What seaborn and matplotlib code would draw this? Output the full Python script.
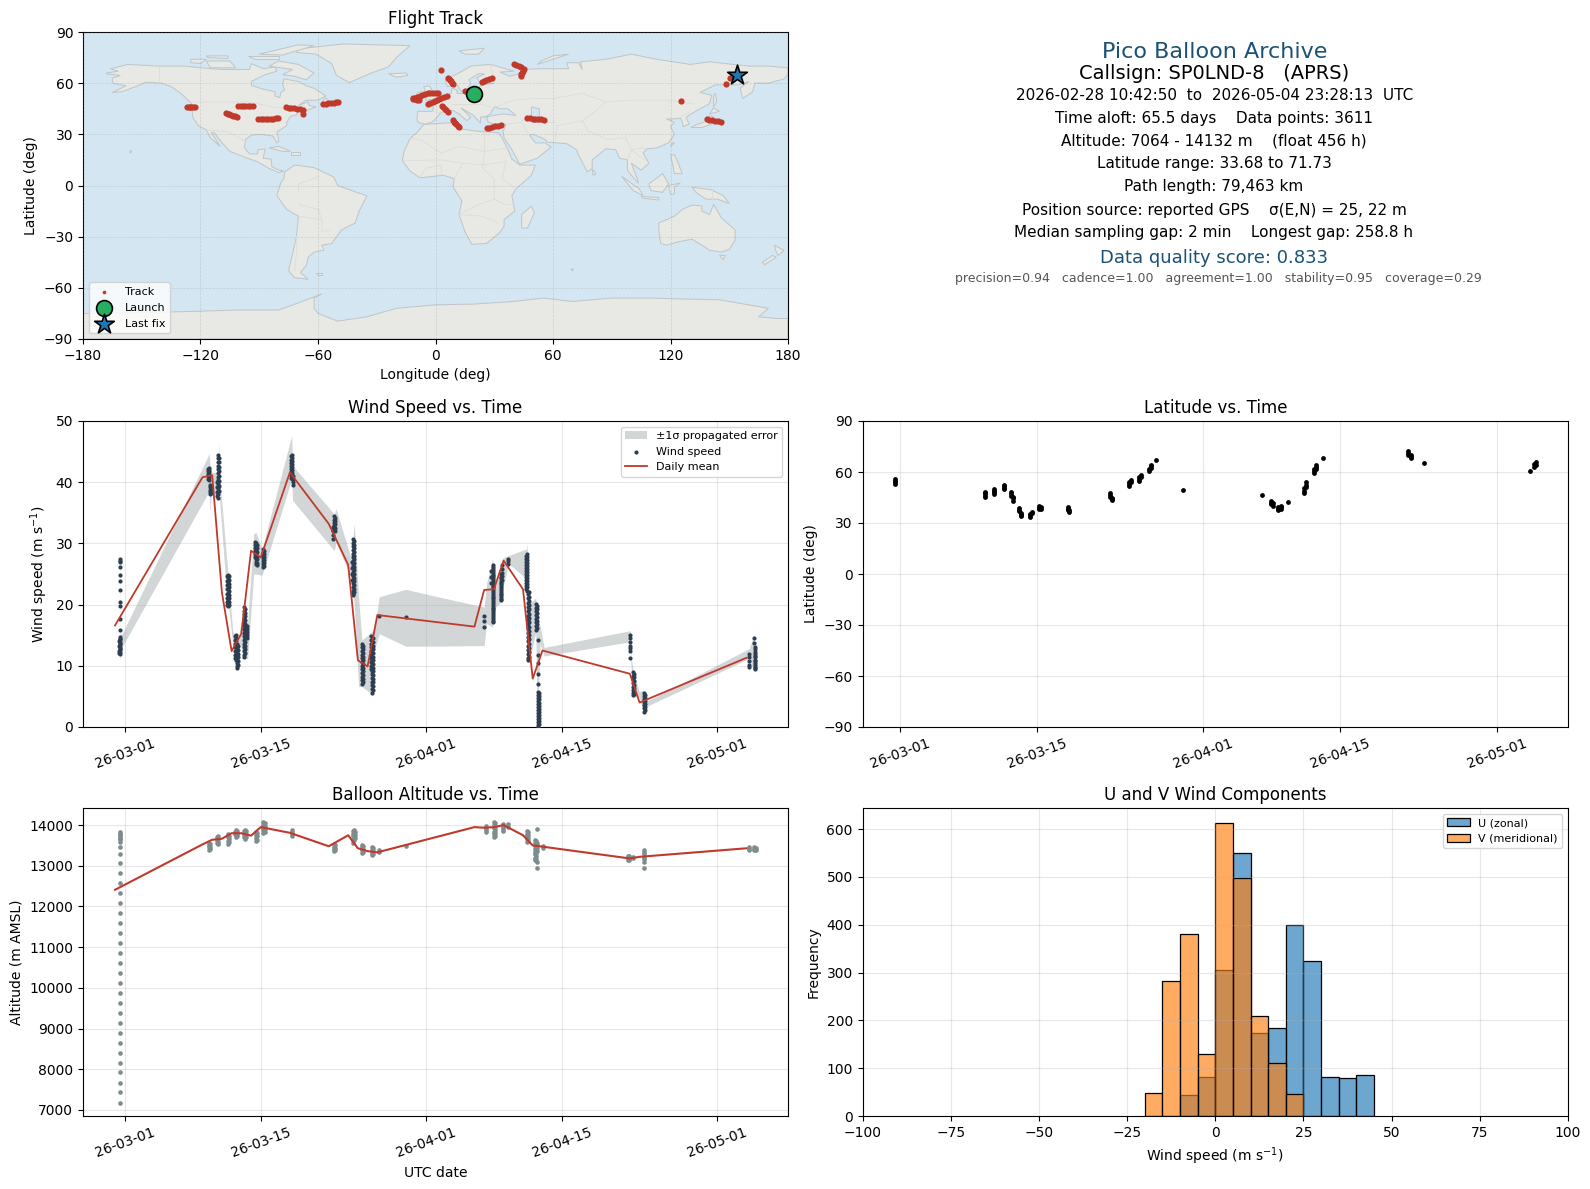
"""
Pico balloon flight summary: track map, wind, latitude, altitude, U/V histogram.
Output: out.png
"""
import numpy as np
import pandas as pd
import matplotlib
matplotlib.use('Agg')
import matplotlib.pyplot as plt
import seaborn as sns

# ── Colours ───────────────────────────────────────────────────
OCEAN = '#d4e6f1'
LAND = '#e8e8e4'
COAST = '#bfc5c8'
BORDER = '#dcdcd8'
RED = '#c0392b'
NAVY = '#2c3e50'
GREY = '#7f8c8d'
TITLE_BLUE = '#1a5276'

# ── Map outlines (lon, lat) ───────────────────────────────────
north_america = [(-168,66),(-162,67),(-166,68.5),(-157,71),(-141,70),(-128,70),(-115,68.5),(-108,68),(-95,68),(-94,71.5),(-88,68.5),(-82,69.5),(-81,67),(-87,65),(-94,61),(-94,58.7),(-88,56.5),(-82,55),(-82,52.5),(-79.5,51.5),(-79,54.5),(-77,56),(-78,59),(-77.5,62.5),(-70,61),(-66,58.5),(-62,57),(-56,52.5),(-60,50),(-66,50),(-70,47),(-65,49),(-64.5,47),(-61,46),(-66,44),(-70,43.5),(-71,41.5),(-74,40.5),(-76,37),(-76,35),(-81,31.5),(-80,26),(-81,25),(-83,29),(-89,30),(-94,29.5),(-97,27),(-97.5,22),(-95,18.5),(-91,18.5),(-90.5,21),(-87,21.5),(-88,16),(-84,15.5),(-83.5,11),(-80,9),(-77.5,8.5),(-80,7.5),(-85,10),(-91,14),(-96,16),(-105,20),(-109,25),(-113,31),(-114.5,31),(-110,23),(-115,28),(-117,32.5),(-121,35),(-124,40),(-124.5,48),(-130,54),(-135,58),(-140,60),(-148,60.5),(-153,58),(-160,55),(-165,54.5),(-158,58.5),(-165,60),(-165,63),(-161,64.5),(-168,65.5)]
greenland = [(-71,78),(-61,77),(-53,71.5),(-50.6,64.6),(-44,60.3),(-33.6,65.6),(-24,69.5),(-20,75),(-13,82),(-47,83),(-71,80)]
south_america = [(-77,8),(-72,12),(-62,10.5),(-52,5),(-50,0),(-44,-2.5),(-35,-6),(-39,-15),(-41,-22),(-48,-26),(-53,-34),(-58,-35),(-57,-38),(-62,-39),(-65,-42),(-66,-47),(-69,-51),(-65,-55),(-72,-54),(-75,-50),(-73,-40),(-71,-30),(-70,-18),(-76,-14),(-81,-6),(-80,-2),(-79,1.5),(-77.5,4)]
africa = [(-6,35.8),(10,37),(11,33.5),(20,32),(25,31.5),(32,31),(34,28),(37,21),(39,15.5),(43,12),(51,12),(49,6),(41,-2),(39,-6),(40.5,-15),(35,-20),(35,-24),(32.5,-28),(26,-34),(18.5,-34.5),(15,-27),(12,-17),(13.5,-9),(9,-1),(9.5,4),(4,6),(-4,5),(-8,4.5),(-13,8.5),(-17,14.5),(-16,20),(-13,27.5),(-9.5,31)]
eurasia = [(-9,37),(-9.5,39),(-9,43.5),(-1.5,43.5),(-1,46),(-4.5,48.5),(1,50),(4,52),(8,54),(8.5,57),(11,56),(11,54),(14,54),(19,54.5),(21,57),(24,59),(30,60),(23,60),(21,63),(25,65.5),(22,65.5),(17,62),(18,60),(16,56),(13,55.5),(11,59),(6,58),(5,62),(12,66),(18,70),(28,71),(40,67),(33,66.5),(38,64),(44,66),(44,68),(54,68.5),(68,68.5),(67,72),(73,72),(75,68),(74,72.5),(87,74),(100,77),(113,74),(130,71),(140,72.5),(160,70),(170,70),(180,69),(180,65),(178,62.5),(170,60),(163,60),(162,55),(157,51),(155.5,57),(160,61),(155,59),(143,59),(135,54.5),(141,53),(140,48),(132,43),(128,40),(129.5,36),(126.5,34.5),(126,37.5),(125,39.5),(121,39),(118,39),(122,37),(120,34.5),(122,30),(119,25),(113,22),(108,21.5),(106,19),(109,13),(105,9),(100,13),(103,4),(103.5,1.3),(100,6),(98,9),(98,15),(94,16),(92,21),(87,21.5),(80,15),(80,10),(77.5,8),(73,18),(72,21),(67,24.5),(57,25.5),(56,27),(50,30),(48,29.5),(51,25),(56,25),(59,22.5),(52,16),(43,12.5),(39,21),(35,28),(34.5,31.5),(36,36),(30,36),(27,37),(26,40),(29,41),(35,42),(41,41),(37,45),(33,45),(30,46),(28,42),(26,40.5),(23,40),(23,36.5),(19.5,41),(13,45.5),(18,40),(16,38),(12,42),(9,44),(3,43),(0,39),(-2,37),(-5.5,36)]
australia = [(114,-22),(122,-18),(126,-14),(131,-11.5),(136,-12),(136,-15),(140,-17),(142,-11),(146,-19),(153,-26),(153,-32),(150,-37.5),(146,-39),(140,-38),(136,-35),(131,-31.5),(124,-33),(118,-35),(115,-34),(114,-26)]
antarctica = [(-180,-90),(-180,-75),(-150,-74.5),(-130,-74),(-100,-73),(-80,-73),(-68,-68),(-58,-63.5),(-62,-66),(-62,-72),(-60,-75),(-50,-79.5),(-35,-77),(-20,-72),(0,-70),(20,-69.5),(40,-68),(55,-66),(70,-68),(90,-66),(110,-66),(125,-66.5),(145,-67),(165,-71),(170,-72),(165,-77),(175,-78),(180,-78),(180,-90)]
islands = [
    [(-80,73),(-70,71),(-62,66),(-66,62),(-72,64),(-78,65),(-73,68),(-85,70)],
    [(-117,73),(-105,73),(-102,69),(-115,69)],
    [(-90,77),(-70,82.5),(-62,82),(-78,76.5)],
    [(-125,74),(-117,74),(-120,71.5),(-125,72)],
    [(-96,76),(-80,76),(-80,74),(-92,74)],
    [(-117,76),(-106,76),(-106,74.5),(-116,75)],
    [(-59,47.5),(-53,47),(-56,51.5)],
    [(-85,22),(-80,23),(-74,20),(-78,20)],
    [(-74,19.5),(-69,19.5),(-69,18),(-74,18)],
    [(-156,19),(-155,20),(-156,20.5)],
    [(-24,65.5),(-15,66),(-14,64.5),(-20,63.5)],
    [(12,79),(25,80.5),(22,77),(15,77)],
    [(52,71),(68,77),(60,76),(54,73)],
    [(-5,50),(1,51),(1,53),(-2,56),(-3,58.5),(-6,58),(-5,54.5),(-3,53.5),(-5,51.5)],
    [(-10,52),(-6,52),(-6,55),(-9,54.5)],
    [(-61,-51.5),(-58,-51.5),(-58,-52.3),(-60,-52.3)],
    [(49,-12),(50.5,-16),(47,-25),(44,-25),(44,-17)],
    [(130.5,34),(136,34),(141,36),(142,40),(140,41),(139,38),(133,35.5)],
    [(140,42),(145,43.5),(142,45.5)],
    [(142,46),(143.5,49),(143,54),(142,53)],
    [(120,23),(122,25),(121,25)],
    [(120,18),(122,18),(124,13),(126,7),(122,7),(121,13)],
    [(95,5.5),(104,-2),(106,-6),(101,-3)],
    [(105,-6.5),(114,-7),(114,-8.5),(106,-7.5)],
    [(109,1),(116,7),(119,1),(116,-4),(110,-3)],
    [(119,0),(125,1.5),(122,-1),(122,-5),(120,-5)],
    [(131,-1),(141,-2.5),(147,-6),(150,-10.5),(144,-8),(138,-8),(133,-4)],
    [(80,9.5),(82,7),(80.5,6)],
    [(145,-41),(148,-41),(147,-43.5)],
    [(173,-35),(178,-38),(175,-41),(174,-39)],
    [(172,-41),(174,-42),(168,-46.5),(167,-45)],
    [(69,-49),(70.5,-49),(70,-50)],
]
caspian = [(49,46),(53,45),(53,40),(54,37),(50,37),(49,41)]
borders = [
    [(-141,70),(-141,60)],[(-124,49),(-95,49),(-83,46),(-75,45),(-67,47)],[(-117,32.5),(-106,31.5),(-97,26)],
    [(-70,-18),(-58,-20),(-58,-27),(-54,-26)],[(-71,-30),(-71,-40),(-72,-50)],[(-70,-4),(-70,1),(-60,5)],[(-70,-11),(-60,-14),(-58,-20)],
    [(-13,27.5),(-8,27),(3,19),(12,23),(25,20),(37,22)],[(25,31.5),(25,20),(24,10),(30,4),(30,-8),(22,-11),(12,-17)],
    [(-17,14.5),(3,15),(14,13),(24,12),(36,14)],[(9.5,4),(14,13)],[(-8,4.5),(-5,10),(3,12),(3,6)],[(30,-8),(35,-11),(40,-11)],[(12,-17),(24,-18),(32,-22)],[(41,-2),(34,4),(36,14)],
    [(20,54),(23,48),(28,46)],[(8,48),(14,48),(23,48)],[(-1.5,43.5),(3,42.5)],[(28,71),(30,60)],
    [(30,46),(40,50),(50,51),(60,51),(75,54),(87,49),(100,50),(118,50),(132,48)],[(87,49),(80,42),(75,38),(62,35),(61,26)],[(75,38),(78,32),(88,27),(97,28),(100,21),(105,22),(108,21.5)],
    [(44,38),(48,39)],[(36,36),(44,37),(46,33),(48,30)],[(61,37),(54,37)],[(125,40),(130,43)],[(100,21),(98,15)],[(100,21),(103,18),(107,15)],[(141,-2.5),(141,-9)],
]

# ── Track (lon/lat fixes) ─────────────────────────────────────
track_lon = [-126.7,-126,-125.3,-124.6,-123.8,-123,-107.1,-106.2,-105.3,-104.4,-103.4,-102.4,-101.5,-100.7,-99.5,-98.3,-97.1,-95.9,-94.6,-93,
             -90.5,-89.2,-88,-86.7,-85.5,-84.2,-83,-81.6,-80.3,-76.3,-75,-73.6,-72.2,-70.8,-69.3,-67.8,-67.5,-57.3,-56,-54.7,-53.4,-52,-50.8,-49.6,
             3.0,6.5,6.9,7.4,8,8.5,9,-11.7,-10.5,-9.2,-8,-6.8,-5.4,-4,-2.6,-1.2,0.2,1.4,-11.5,-10.6,-9.6,-8.4,
             -3.7,-2.6,-1.5,-0.4,0.7,1.8,3,4.2,5.7,3.1,3.9,4.7,5.6,6.5,8.8,9.4,10,10.6,11.3,12,
             26.1,27.4,28.8,30.2,31.7,33.4,15,16.8,23.6,24.8,26,27.4,28.7,40,41.2,42.4,43.6,45.2,44.8,44.3,43.9,43.5,
             46.9,48.2,49.6,51,52.4,53.9,55.4,125.5,138.5,139.8,141.2,142.6,144,145.6,148.1,150.4]
track_lat = [45.8,45.8,45.8,45.8,45.8,45.8,42.3,42,41.7,41.4,41,40.7,40.4,46.4,46.4,46.4,46.4,46.4,46.4,46.4,
             38.8,38.8,38.9,39,39,39.1,39.2,39.3,39.4,45.8,45.6,45.4,45.2,45,44.8,44.5,41.7,47.8,48,48.2,48.4,48.6,48.8,49,
             67.5,63.2,62.5,61.7,61,60.2,59.3,50.5,51.2,52,52.7,53.3,53.7,54,54.1,54.1,54,54,51.2,50.6,50.2,50.1,
             47.6,48.2,48.8,49.4,50,50.6,51.2,51.8,52.5,46.6,45.8,45,44.1,43.3,38.2,37.4,36.6,35.8,35,34.3,
             33.5,33.9,34.3,34.7,35.1,35.5,55.4,55.4,60.9,61.4,61.8,62.3,62.8,71.4,70.8,70.2,69.4,68.1,67.2,66.2,65.2,64.2,
             39.4,39.3,39.2,39,38.9,38.8,38.6,49.4,38.8,38.6,38.3,38.1,37.8,37.4,59.7,62.8]
launch_lon, launch_lat = [19.8], [53.5]
last_lon, last_lat = [153.8], [64.6]

# ── Wind speed (days after 2026-03-01, m/s) ───────────────────
wind_days = [-0.51,-0.44,8.71,8.78,9.57,9.45,10.6,11.4,11.55,12.3,12.55,13.4,13.6,14.27,17.18,17.28,21.57,21.45,23.53,23.42,24.38,25.4,25.5,26.2,28.94,
             37.0,37.86,37.75,38.7,38.85,39.5,41.4,41.5,42.3,42.5,51.98,52.3,53.46,64.3,64.8,64.85,
             9.67,10.7,10.5,11.3,11.65,12.42,13.5,14.37,17.1,21.65,23.62,24.48,25.55,37.95,38.78,41.32,41.6,42.4,42.6,52.4,53.55,8.62,8.88,-0.58,64.9]
wind_values = [
    [27.5,27.2,26.9,26.1,24.9,23.9,22.4,20.5,19.7,17.6,15.9,14.7,14.3,13.9,13.5,13.1,12.7,12.3,11.9],[14.4,13.6,12.8],
    [42.4,42,41.6,41.2,40.8,40.4],[39.6,39.2,38.8,38.4,38],
    [44.4,43.9,43.3,42.7,42.1,41.5,40.9,40.3,39.7,39.1,38.5,38,37.5],[40,39.2,38.4,37.8],
    [24.9,24.3,23.7,23.1,22.5,21.9,21.3,20.7,20.2,19.7],
    [15,14.5,14,13.5,13,12.5,12,11.5,11],[13.5,13,12.5,12,11.5,11,10.5,10,9.7],
    [19.6,19,18.4,17.8,17.2,16.6,16,15.4,14.8,14.2,13.6,13,12.4,11.8,11.5],[16.5,16,15.5,15,14.5],
    [30.3,29.8,29.3,28.8,28.3,27.8],[29.8,29.2,28.6,28,27.4,26.8,26.4],
    [29.1,28.6,28.1,27.6,27.1,26.6,26.1],
    [44.5,44,43.5,43,42.5,42,41.5,41,40.5],[41,40.5,40,39.6],
    [34.4,33.9,33.4,32.9,32.4],[32.6,32,31.4,30.7],
    [30.7,30.1,29.5,28.9,28.3,27.7,27.1,26.5,25.9,25.3,24.7,24.1,23.5,22.9,22.3,21.8,21.5],[27,26,25,24],
    [13.5,13,12.4,11.8,11.2,10.6,10,9.4,8.8,8.2,7.6,7.1],
    [14.8,14.2,13.6,13,12.4,11.8,11.2,10.6,10,9.4],[11,10.4,9.8,9.2,8.6,8,7.4,6.8,6.2,5.6],
    [18.2],[17.9],
    [18.2,17.3,16.3],
    [26.4,25.8,25.2,24.6,24,23.4,22.8,22.2,21.6,21,20.4,19.8,19.2,18.6,18,17.4,17.2],[25.5,24.5,23.5],
    [24.5,23.9,23.3,22.7,22.1,21.5,20.9,20.7],[26.4,25.8,25.2,24.6,24],
    [27.5,27.1,26.7],
    [28.3,27.8,27.3,26.8,26.3,25.8,25.3,24.8,24.3,23.8,23.3,22.8,22.3],[21.7,21,20.3,19.6,18.9,18.2,17.5,16.8,16.1,15.4,14.7,14,13.3,12.6,11.9,11.2,10.9],
    [20.1,19.5,18.9,18.3,17.7,17.1,16.5,15.8],[14.2,11.7,10.4,8.7,7.1,5.8,5.3,4.8,4.3,3.8,3.3,2.8,2.3,1.8,1.3,0.8,0.3,0],
    [15.1,14.5,13.9,13.3,12.9,12.5,11.2],[9,8.4,7.8,7.2,6.6,6,5.6,5.2],
    [5.6,5.1,4.6,4.1,3.6,3.1,2.5],
    [12,11.4,10.8,10.2,9.8],[14.6,13.8],[13,12.2,11.6,11,10.4,9.8,9.5],
    [44,43.3,42.5,41.8,41,40.2,39.4,38.6],[24.6,24,23.4,22.8,22.2,21.6,21,20.4,20],[24.6,23.9,23.2,22.5,21.8,21.1,20.4,19.9],
    [14.8,14.2,13.6,13,12.4,11.8,11.2],[13.2,12.6,12,11.4,10.8,10.2],[19.3,18.7,18.1,17.5,16.9,16.3,15.7,15.1,14.5,13.9,13.3,12.7,12.1],
    [30,29.5,29,28.5,28,27.5,27,26.6],[28.8,28.3,27.8,27.3,26.8,26.3],[44.2,43.7,43.2,42.7,42.2,41.7,41.2,40.7],[34.1,33.6,33.1,32.5,32],
    [30.4,29.8,29.2,28.6,28,27.4,26.8,26.2,25.6,25,24.4,23.8,23.2,22.6,22],[13.2,12.7,12.1,11.5,10.9,10.3,9.7,9.1,8.5,7.9,7.3],
    [14.5,13.9,13.3,12.7,12.1,11.5,10.9,10.3,9.7,9.1,8.5,7.9,7.3,6.7,6.1],[26.1,25.5,24.9,24.3,23.7,23.1,22.5,21.9,21.3,20.7,20.1,19.5,18.9,18.3,17.7],
    [25,24.3,23.6,23,22.4,21.8,21.2],[28,27.5,27,26.5,26,25.5,25,24.5,24,23.5,23,22.5],[22,21.3,20.6,19.9,19.2,18.5,17.8,17.1,16.4,15.7,15,14.3,13.6,12.9,12.2,11.5],
    [19.8,19.2,18.6,18,17.4,16.8,16.2],[5.5,5,4.5,4,3.5,3,2.5,2,1.5,1,0.5],[8.7,8.1,7.5,6.9,6.3,5.8,5.4],[5.3,4.8,4.3,3.8,3.3,2.8],
    [42.2,41.8,41.4,41,40.6],[39.4,39,38.6,38.2],[14.1,13.3,12.5,12.1],[12.8,12,11.4,10.8,10.2,9.7],
]

# Propagated error band, read as day / upper / lower
band_days = [-0.55,-0.48,-0.27,8.71,8.78,8.92,9.57,9.67,9.74,10.6,10.7,11.11,11.63,11.87,12.31,12.65,13.27,13.51,14.13,17.18,17.28,21.57,21.74,23.28,23.63,24.07,24.42,25.34,25.69,26.2,28.94,31.34,
             37.0,37.24,37.86,38.2,38.72,38.96,39.5,41.36,41.42,41.63,42.31,42.49,42.76,43.17,51.92,52.05,52.12,52.33,52.95,53.46,53.63,64.27,64.79]
band_upper = [29.5,15.25,15.25,44.7,42.4,41.6,41.6,46.7,41.3,25.6,23.4,15.8,13.6,16.3,19.9,16.9,31.6,31.8,29.1,47.6,42.7,34.8,35.7,27.7,33.2,21.2,14.2,15.5,15.8,21.3,22.5,21.6,
              19.6,23.4,27.5,23.4,26.1,27.7,28,29.1,30,20.1,21.1,16.9,16.6,13,15.7,15.7,11.5,9.3,5.8,6,4.1,12.8,15.1]
band_lower = [26.1,10.9,13.1,38.6,35.3,38.1,37.8,40,37.5,19.3,19.6,13.6,9.4,13.6,11.2,11.2,25,25,24.8,40.5,37,28.8,30.2,24.5,20.1,6.6,6.6,5.5,12.5,15.25,13.2,13.2,
              13.3,16.9,16.3,19.6,20.4,22.9,26.7,24.2,10.6,10.6,15.5,0,13.6,11.6,13.9,12.5,9.8,4.9,4.9,2.2,3.3,11.2,9]

# Daily means share one calendar
mean_days = [-1,8,9,10,11,12,13,14,17,21,23,24,25,26,36,37,38,39,41,42,43,52,53,64]
wind_mean = [16.6,40.8,41.15,22,12.4,15.25,28.8,27.7,41.6,33.2,26.5,10.9,9.9,18.3,16.4,22.4,22.5,27.2,22.5,7.9,12.5,8.7,4,11.3]
alt_mean = [12410,13525,13640,13665,13800,13800,13740,13950,13810,13480,13750,13430,13360,13330,13950,13935,13950,14000,13750,13500,13470,13180,13220,13430]

# ── Latitude clusters ─────────────────────────────────────────
lat_days = [-0.5,8.71,9.6,10.6,11.35,11.55,12.2,12.4,13.3,13.5,14.2,14.45,17.15,17.3,21.5,21.7,23.4,23.6,24.4,24.6,25.4,25.6,26.2,28.9,
            37,37.9,38.1,38.6,38.9,39.6,41.3,41.5,42.3,42.5,43.2,51.9,52.2,53.5,64.4,64.8,65]
lat_values = [[55.9,55,54,52.9],[48.4,47.5,46.5,45.5],[50,49,48,47],[52.4,51.5,50.6,50],[48,47,46],[45.5,44.5,43],[38.8,37.8,36.8],[36,35,33.9],
              [33.7,34.5,35.3],[36,36.7],[40,39,38],[39.6,38.4],[39.6,38.5,37.5],[37.8,36.3],[47.5,46.5,45.5],[45,44,43.5],[52,53,54],[54,55.3],
              [55,56,57],[57,58.2],[60.8,62],[62.5,63.5,64.3],[67],[49.4],[46.5],[43.1,42,41],[41.5,40.2],[37.6,38.5,39.5],[38.5,39.5,40.2],[42.4],
              [47.5,49,50.5],[51,52.5,53.9],[59.2,60.5,62],[62,63,64],[68.2],[72.2,71,70],[70,69,68.2],[65.3],[60.4],[63.1,64.5],[64,65.7]]

# ── Altitude clusters ─────────────────────────────────────────
alt_days = [-0.5,-0.48,8.71,9.6,10.6,11.45,12.38,13.5,14.27,17.18,21.57,23.45,23.6,24.38,25.45,26.2,28.94,37.2,38.05,38.95,39.5,41.4,42.25,42.4,43.1,51.9,52.3,53.46,64.3,64.8,65,
            8.8,9.5,10.7,11.6,11.3,12.25,12.5,13.62,14.4,21.67,23.72,24.5,25.57,38.15,42.35,51.8,41.5]
alt_values = [
    [7180,7430,7670,7920,8160,8410,8650,8900,9140,9390,9630,9880,10120,10370,10610,10860,11100,11350,11590,11840,12080,12330,12570,12820,13060,13300,13450,13580],
    [13830,13790,13750,13710,13670,13650],
    [13565,13510,13450,13400],[13730,13660,13590,13525],[13770,13700,13620,13540],[13890,13820,13760,13700],[13890,13820,13740,13670],[13835,13760,13680,13600],
    [14080,14010,13940,13870,13810],[13890,13830,13780,13730],[13525,13470,13410,13360],[13860,13790,13720,13640,13565],[13870,13790,13710,13640],[13510,13450,13380,13320],[13460,13390,13320,13255],
    [13390,13350],[13480],[13975,13930,13880,13835],[14080,14000,13920,13840,13770,13700],[14020,13960,13900,13860],[14020,13960],[13850,13790,13720,13650,13590],
    [13630,13560,13490,13420,13350,13280,13200,13130],[13900,13570,13500,13430,13360,13100,12950],[13480,13440],[13250,13200,13170,13130],[13220,13180],[13380,13300,13220,13160,13090,12950,13340],[13470,13420,13380],[13460,13420,13390],[13440,13400],
    [13530,13470,13420],[13700,13630,13560],[13740,13660,13580],[13860,13790,13730],[13840,13780],[13860,13780,13710],[13850,13770,13700],[13800,13720,13640],[14050,13970,13900,13840],[13500,13440,13390],[13830,13750,13680],[13480,13410,13350],[13430,13360,13290],[14050,13960,13880,13800,13730],[13600,13530,13460,13390,13320,13240,13170],[13230,13190,13150],[13820,13750,13680,13620],
]

# ── U / V histogram (counts per 5 m/s bin) ────────────────────
u_edges = [-10,-5,0,5,10,15,20,25,30,35,40,45]
u_counts = [44,82,306,550,174,184,400,325,82,79,85]
v_edges = [-20,-15,-10,-5,0,5,10,15,20,25]
v_counts = [48,283,380,130,613,497,209,110,46]

# ── Axis ticks ────────────────────────────────────────────────
date_tick_days = [0,14,31,45,61]
date_tick_labels = ['26-03-01','26-03-15','26-04-01','26-04-15','26-05-01']

# ── Summary text ──────────────────────────────────────────────
summary_text = [
    'Pico Balloon Archive',
    'Callsign: SP0LND-8   (APRS)',
    '2026-02-28 10:42:50  to  2026-05-04 23:28:13  UTC',
    'Time aloft: 65.5 days    Data points: 3611',
    'Altitude: 7064 - 14132 m    (float 456 h)',
    'Latitude range: 33.68 to 71.73',
    'Path length: 79,463 km',
    'Position source: reported GPS    σ(E,N) = 25, 22 m',
    'Median sampling gap: 2 min    Longest gap: 258.8 h',
    'Data quality score: 0.833',
    'precision=0.94   cadence=1.00   agreement=1.00   stability=0.95   coverage=0.29',
]

W, H = 1590, 1189
SUMMARY_Y = [51.7, 73.5, 95, 118.2, 140.5, 163.8, 187, 210.5, 232.8, 258, 278.8]
SUMMARY_X = [1215, 1214, 1215, 1214, 1214, 1214, 1214, 1214, 1214, 1214, 1218]
SUMMARY_SIZE = [16, 14, 11, 11, 11, 11, 11, 11, 11, 13, 9]
SUMMARY_COLOR = [TITLE_BLUE, 'black', 'black', 'black', 'black', 'black', 'black', 'black', 'black', TITLE_BLUE, '#555555']


def to_time(days):
    return pd.Timestamp('2026-03-01') + pd.to_timedelta(np.asarray(days, dtype=float), unit='D')


def flatten(days, values):
    xs = [d for d, vals in zip(days, values) for _ in vals]
    ys = [v for vals in values for v in vals]
    return to_time(xs), ys


def panel(left, top, right, bottom):
    return fig.add_axes([left / W, 1 - bottom / H, (right - left) / W, (bottom - top) / H])


def date_axis(ax, lo, hi):
    ax.set_xlim(to_time([lo])[0], to_time([hi])[0])
    ax.set_xticks(to_time(date_tick_days), date_tick_labels, rotation=20)
    ax.set_xlabel('')
    ax.grid(alpha=0.3)


fig = plt.figure(figsize=(W / 100, H / 100), dpi=100, facecolor='white')

# ── Flight track ──────────────────────────────────────────────
ax = panel(83, 32, 788, 339)
ax.set_facecolor(OCEAN)
for poly in [north_america, greenland, south_america, africa, eurasia, australia, antarctica] + islands:
    xs, ys = zip(*poly)
    ax.fill(xs, ys, facecolor=LAND, edgecolor=COAST, linewidth=0.7, zorder=1)
xs, ys = zip(*caspian)
ax.fill(xs, ys, facecolor=OCEAN, edgecolor=COAST, linewidth=0.7, zorder=1.1)
for line in borders:
    xs, ys = zip(*line)
    ax.plot(xs, ys, color=BORDER, linewidth=0.6, zorder=1.2)
ax.grid(alpha=0.25, linestyle='--', linewidth=0.5, color='#808080')
ax.set_axisbelow(False)
sns.scatterplot(x=track_lon, y=track_lat, s=20, color=RED, linewidth=0, label='Track', ax=ax, zorder=3)
sns.scatterplot(x=launch_lon, y=launch_lat, s=130, color='#27ae60', edgecolor='black', linewidth=1.2, label='Launch', ax=ax, zorder=4)
sns.scatterplot(x=last_lon, y=last_lat, s=220, marker='*', color='#1f77b4', edgecolor='black', linewidth=1.2, label='Last fix', ax=ax, zorder=4)
ax.set_xlim(-180, 180)
ax.set_ylim(-90, 90)
ax.set_xticks(range(-180, 181, 60))
ax.set_yticks(range(-90, 91, 30))
ax.set_xlabel('Longitude (deg)')
ax.set_ylabel('Latitude (deg)')
ax.set_title('Flight Track')
leg = ax.legend(loc='lower left', fontsize=8, labelspacing=0.55, borderpad=0.4, handletextpad=0.9)
leg.legend_handles[0].set_sizes([7])

# ── Summary block ─────────────────────────────────────────────
for txt, px, py, size, col in zip(summary_text, SUMMARY_X, SUMMARY_Y, SUMMARY_SIZE, SUMMARY_COLOR):
    fig.text(px / W, 1 - py / H, txt, ha='center', va='center', fontsize=size, color=col)

# ── Wind speed ────────────────────────────────────────────────
ax = panel(83, 421, 788, 727)
ax.fill_between(to_time(band_days), band_lower, band_upper, color=GREY, alpha=0.35, linewidth=0, label='±1σ propagated error')
wt, wv = flatten(wind_days, wind_values)
sns.scatterplot(x=wt, y=wv, s=9, color=NAVY, linewidth=0, label='Wind speed', ax=ax, zorder=3)
sns.lineplot(x=to_time(mean_days), y=wind_mean, color=RED, linewidth=1.3, estimator=None, label='Daily mean', ax=ax, zorder=4)
date_axis(ax, -4.3, 68.28)
ax.set_ylim(0, 50)
ax.set_ylabel('Wind speed (m s$^{-1}$)')
ax.set_title('Wind Speed vs. Time')
ax.legend(loc='upper right', fontsize=8)

# ── Latitude ──────────────────────────────────────────────────
ax = panel(862.5, 421, 1568, 727)
lt, lv = flatten(lat_days, lat_values)
sns.scatterplot(x=lt, y=lv, s=12, color='black', linewidth=0, ax=ax, zorder=3)
date_axis(ax, -3.83, 68.26)
ax.set_ylim(-90, 90)
ax.set_yticks(range(-90, 91, 30))
ax.set_ylabel('Latitude (deg)')
ax.set_title('Latitude vs. Time')

# ── Altitude ──────────────────────────────────────────────────
ax = panel(83, 808, 788, 1116)
at, av = flatten(alt_days, alt_values)
sns.scatterplot(x=at, y=av, s=11, color=GREY, linewidth=0, ax=ax, zorder=3)
sns.lineplot(x=to_time(mean_days), y=alt_mean, color=RED, linewidth=1.5, estimator=None, ax=ax, zorder=4)
date_axis(ax, -4.3, 68.28)
ax.set_ylim(6850, 14420)
ax.set_yticks(range(7000, 14001, 1000))
ax.set_xlabel('UTC date')
ax.set_ylabel('Altitude (m AMSL)')
ax.set_title('Balloon Altitude vs. Time')

# ── U / V histogram ───────────────────────────────────────────
ax = panel(862.5, 808, 1568, 1116)
u_mid = [(a + b) / 2 for a, b in zip(u_edges[:-1], u_edges[1:])]
v_mid = [(a + b) / 2 for a, b in zip(v_edges[:-1], v_edges[1:])]
sns.histplot(x=u_mid, weights=u_counts, bins=u_edges, color='#1f77b4', alpha=0.65, edgecolor='black', linewidth=0.9, label='U (zonal)', ax=ax)
sns.histplot(x=v_mid, weights=v_counts, bins=v_edges, color='#ff7f0e', alpha=0.65, edgecolor='black', linewidth=0.9, label='V (meridional)', ax=ax)
ax.set_xlim(-100, 100)
ax.set_ylim(0, 644)
ax.set_xticks(range(-100, 101, 25))
ax.grid(alpha=0.3)
ax.set_xlabel('Wind speed (m s$^{-1}$)')
ax.set_ylabel('Frequency')
ax.set_title('U and V Wind Components')
ax.legend(loc='upper right', fontsize=8)

fig.savefig('out.png', dpi=100)
print('Saved out.png')
